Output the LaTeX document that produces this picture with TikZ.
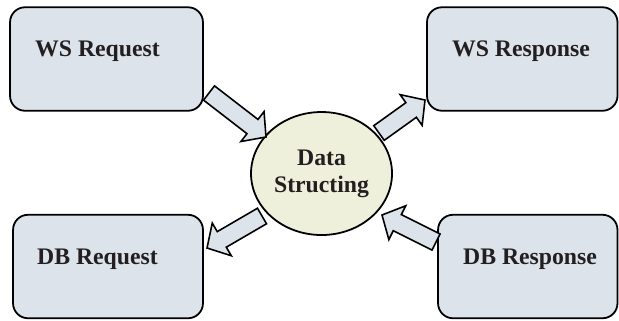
\documentclass[tikz,border=0pt]{standalone}
\usepackage{fontspec}
\setmainfont{Liberation Serif}
\usetikzlibrary{calc,shapes.geometric}

\definecolor{boxFill}{HTML}{DCE3EA}
\definecolor{hubFill}{HTML}{EEF0DC}
\definecolor{inkGray}{HTML}{231F20}

% outlined block arrow from #1 to #2
\newcommand{\fatArrow}[2]{%
  \coordinate (fa) at ($(#2)!0.57cm!(#1)$);
  \draw[arrowStyle] ($(#1)!0.3cm!90:(#2)$) -- ($(fa)!0.3cm!90:(#2)$)
    -- ($(fa)!0.63cm!90:(#2)$) -- (#2) -- ($(fa)!0.63cm!-90:(#2)$)
    -- ($(fa)!0.3cm!-90:(#2)$) -- ($(#1)!0.3cm!-90:(#2)$) -- cycle;}

\begin{document}
\begin{tikzpicture}[boxStyle/.style={draw, line width=1.7pt, rounded corners=0.5cm, fill=boxFill, minimum height=3.45cm},
                    textStyle/.style={anchor=base, text=inkGray, font=\fontsize{22.5pt}{25.6pt}\selectfont\bfseries},
                    hubStyle/.style={ellipse, draw, line width=1.7pt, fill=hubFill, minimum width=4.7cm, minimum height=4.1cm, inner sep=0pt, align=center},
                    arrowStyle/.style={draw, line width=1.5pt, line join=miter, fill=boxFill}]
    \useasboundingbox (0, 0) rectangle (20.633, 10.667);

    \node[boxStyle, minimum width=6.43cm](wsReq) at (3.55, 8.70) {};
    \node[boxStyle, minimum width=6.35cm](wsResp) at (17.408, 8.70) {};
    \node[boxStyle, minimum width=6.33cm](dbReq) at (3.6, 1.783) {};
    \node[boxStyle, minimum width=5.98cm](dbResp) at (17.592, 1.783) {};

    \node[textStyle](wsReqText) at (3.25, 8.767) {WS Request};
    \node[textStyle](wsRespText) at (17.367, 8.767) {WS Response};
    \node[textStyle](dbReqText) at (3.25, 1.867) {DB Request};
    \node[textStyle](dbRespText) at (17.667, 1.867) {DB Response};

    \node[hubStyle, textStyle, anchor=center](hub) at (10.717, 4.883) {Data\\Structing};

    \coordinate (a1) at (6.967, 7.567);
    \coordinate (b1) at (8.867, 6.1);
    \coordinate (a2) at (12.633, 6.233);
    \coordinate (b2) at (14.167, 7.333);
    \coordinate (a3) at (8.733, 3.467);
    \coordinate (b3) at (6.9, 2.4);
    \coordinate (a4) at (14.533, 2.6);
    \coordinate (b4) at (12.733, 3.5);

    \fatArrow{a1}{b1}
    \fatArrow{a2}{b2}
    \fatArrow{a3}{b3}
    \fatArrow{a4}{b4}
\end{tikzpicture}
\end{document}
